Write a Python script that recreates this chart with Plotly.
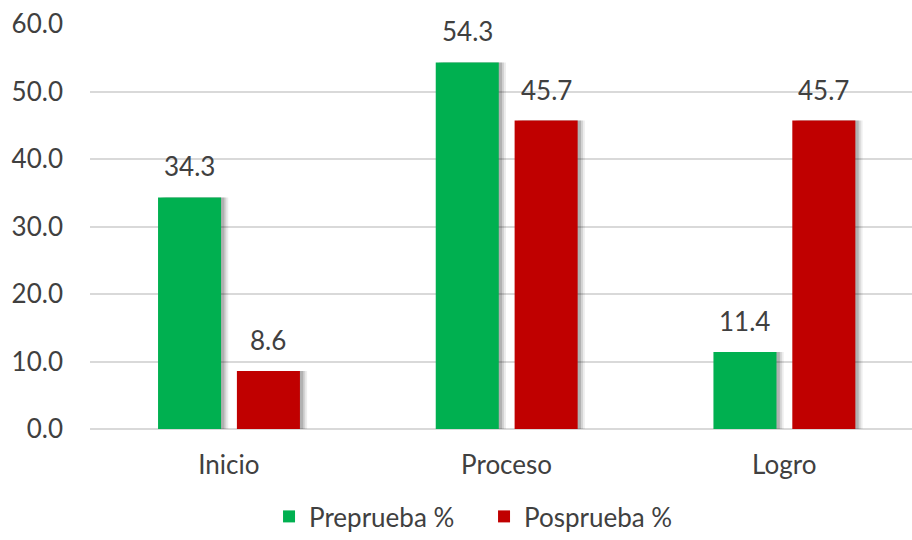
import plotly.graph_objects as go

categories = ["Inicio", "Proceso", "Logro"]
preprueba = [34.3, 54.3, 11.4]
posprueba = [8.6, 45.7, 45.7]
series_names = ["Preprueba %", "Posprueba %"]
y_ticks = [0, 10, 20, 30, 40, 50, 60]

GREEN = "#00B050"
RED = "#C00000"
TXT = "#404040"
FONT = "Lato"
FS = 26

W = 0.227
OFF = [-0.255, 0.029]
xs = list(range(len(categories)))

fig = go.Figure()

# soft drop shadows (drawn from the same data)
for vals, off in [(preprueba, OFF[0]), (posprueba, OFF[1])]:
    for dx, a in [(0.026, 0.07), (0.019, 0.11), (0.012, 0.16)]:
        fig.add_trace(go.Bar(
            x=xs, y=vals, width=W, offset=off + dx,
            marker=dict(color=f"rgba(0,0,0,{a})", line=dict(width=0)),
            showlegend=False, hoverinfo="skip"))

for name, vals, off, col in [(series_names[0], preprueba, OFF[0], GREEN),
                             (series_names[1], posprueba, OFF[1], RED)]:
    fig.add_trace(go.Bar(
        x=xs, y=vals, width=W, offset=off, name=name,
        marker=dict(color=col, line=dict(width=0))))
    for xi, v in zip(xs, vals):
        fig.add_annotation(x=xi + off + W / 2, y=v, text=f"{v:.1f}",
                           showarrow=False, yanchor="bottom", yshift=13,
                           font=dict(family=FONT, size=FS, color=TXT))

fig.update_layout(
    width=912, height=540,
    margin=dict(l=90, r=0, t=24, b=111),
    paper_bgcolor="white", plot_bgcolor="white",
    barmode="overlay",
    font=dict(family=FONT, size=FS, color=TXT),
    legend=dict(orientation="h", x=0.2178, xanchor="left",
                yref="container", y=0.0, yanchor="bottom",
                entrywidth=170, entrywidthmode="pixels",
                font=dict(family=FONT, size=FS, color=TXT), itemwidth=30,
                traceorder="normal"),
    xaxis=dict(range=[-0.5, 2.46], tickmode="array", tickvals=xs, ticktext=categories,
               showgrid=False, zeroline=False, showline=False, ticks="", automargin=False,
               ticklabelstandoff=18, tickfont=dict(family=FONT, size=FS, color=TXT)),
    yaxis=dict(range=[0, 60], tickmode="array", tickvals=y_ticks,
               ticktext=[f"{t:.1f}" for t in y_ticks], automargin=False,
               showgrid=True, gridcolor="#D9D9D9", gridwidth=1.5,
               zeroline=True, zerolinecolor="#D9D9D9", zerolinewidth=1.5,
               showline=False, ticks="", ticklabelstandoff=26,
               tickfont=dict(family=FONT, size=FS, color=TXT)),
)

fig.write_html("out.html", config={"displayModeBar": False},
               post_script="document.body.style.margin='0';document.body.style.overflow='hidden';")
